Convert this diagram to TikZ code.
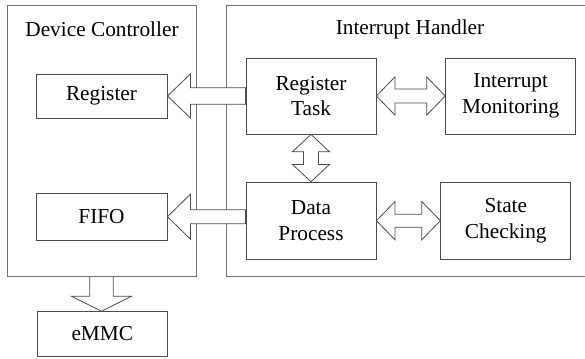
\documentclass[tikz,border=0pt]{standalone}
\usepackage{fontspec}
\setmainfont{Liberation Serif}
\usetikzlibrary{calc}

\tikzset{
  frame/.style={draw=black!55, line width=0.9pt, inner sep=0pt},
  unit/.style={draw=black!70, line width=0.9pt, fill=white, inner sep=0pt,
               align=center, font=\fontsize{21.3}{25.5}\selectfont},
  heading/.style={inner sep=0pt, font=\fontsize{21.3}{25.5}\selectfont},
  blk/.style={draw=black!70, line width=0.8pt, fill=white, line join=miter},
}

% leftward block arrow: tip, tail, head length, head half-width, shaft half-width
\newcommand\blockleft[5]{%
  \draw[blk] let \p1=(#1), \p2=(#2) in
    (\p1) -- (\x1+#3,\y1+#4) -- (\x1+#3,\y1+#5) -- (\x2,\y1+#5)
    -- (\x2,\y1-#5) -- (\x1+#3,\y1-#5) -- (\x1+#3,\y1-#4) -- cycle;}

% horizontal two-headed block arrow between two tips
\newcommand\blockhoriz[5]{%
  \draw[blk] let \p1=(#1), \p2=(#2) in
    (\p1) -- (\x1+#3,\y1+#4) -- (\x1+#3,\y1+#5) -- (\x2-#3,\y1+#5)
    -- (\x2-#3,\y1+#4) -- (\x2,\y1) -- (\x2-#3,\y1-#4) -- (\x2-#3,\y1-#5)
    -- (\x1+#3,\y1-#5) -- (\x1+#3,\y1-#4) -- cycle;}

% vertical two-headed block arrow, upper tip first
\newcommand\blockvert[5]{%
  \draw[blk] let \p1=(#1), \p2=(#2) in
    (\p1) -- (\x1+#4,\y1-#3) -- (\x1+#5,\y1-#3) -- (\x1+#5,\y2+#3)
    -- (\x1+#4,\y2+#3) -- (\x1,\y2) -- (\x1-#4,\y2+#3) -- (\x1-#5,\y2+#3)
    -- (\x1-#5,\y1-#3) -- (\x1-#4,\y1-#3) -- cycle;}

% downward block arrow from a tail point to a tip
\newcommand\blockdown[5]{%
  \draw[blk] let \p1=(#1), \p2=(#2) in
    (\x1-#5,\y1) -- (\x1-#5,\y2+#3) -- (\x1-#4,\y2+#3) -- (\x1,\y2)
    -- (\x1+#4,\y2+#3) -- (\x1+#5,\y2+#3) -- (\x1+#5,\y1);}

\begin{document}
\begin{tikzpicture}[x=1pt, y=1pt]
  \useasboundingbox (0,0) rectangle (585,358);

  % outer frames
  \node[frame, minimum width=189pt, minimum height=271.7pt] (dc) at (101.5,217.15) {};
  \node[frame, minimum width=365.3pt, minimum height=271.7pt] (ih) at (409.35,217.15) {};
  \node[heading] (dctitle) at (102,329) {Device Controller};
  \node[heading] (ihtitle) at (410,329) {Interrupt Handler};

  % functional units
  \node[unit, minimum width=131pt, minimum height=44pt] (reg)   at (101.5,262)   {Register};
  \node[unit, minimum width=131pt, minimum height=47pt] (fifo)  at (101.5,141.3) {FIFO};
  \node[unit, minimum width=130pt, minimum height=44.5pt] (emmc) at (102.3,24)   {eMMC};
  \node[unit, minimum width=130pt, minimum height=76pt] (rtask) at (311,262)     {Register\\Task};
  \node[unit, minimum width=130pt, minimum height=76pt] (imon)  at (510.7,262)   {Interrupt\\Monitoring};
  \node[unit, minimum width=130pt, minimum height=77pt] (dproc) at (311,137.3)   {Data\\Process};
  \node[unit, minimum width=130pt, minimum height=77pt] (schk)  at (505.8,137.3) {State\\Checking};

  % data paths
  \blockleft{reg.east}{rtask.west}{23}{22}{8.3}
  \blockleft{fifo.east}{dproc.west}{23}{22.5}{7}
  \blockhoriz{rtask.east}{imon.west}{18.6}{19.2}{7}
  \blockhoriz{dproc.east}{schk.west}{18.6}{19.2}{6.5}
  \blockvert{rtask.south}{dproc.north}{17.3}{18.5}{7.5}
  \blockdown{dc.south}{emmc.north}{15}{30}{11.7}
\end{tikzpicture}
\end{document}
